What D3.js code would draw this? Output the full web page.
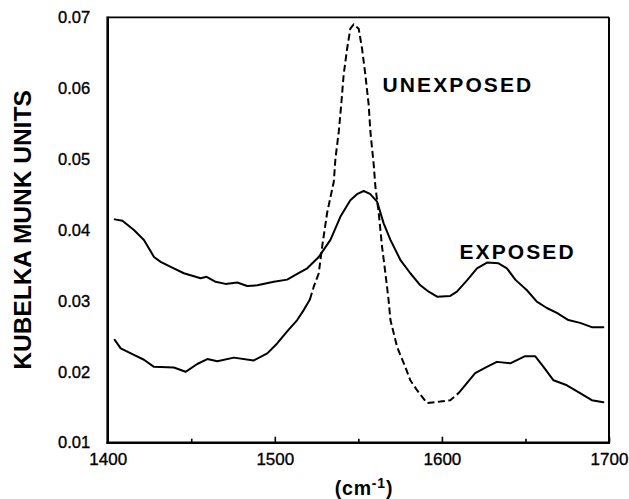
<!DOCTYPE html>
<html>
<head>
<meta charset="utf-8">
<script src="https://cdn.jsdelivr.net/npm/d3@7"></script>
<style>
  html, body { margin: 0; padding: 0; background: #fff; }
  svg { display: block; }
</style>
</head>
<body>
<svg id="chart" width="629" height="499"></svg>
<script>
// ---- data ----
const xTicks = [1400, 1500, 1600, 1700];
const xMinorTicks = [1450, 1550, 1650];
const yTicks = [0.01, 0.02, 0.03, 0.04, 0.05, 0.06, 0.07];

const exposedWn = [1404.2,1408.8,1415.7,1421.7,1427.7,1431.7,1437.7,1445.6,1455.6,1459.2,1464.6,1470.5,1477.5,1483.5,1489.5,1499.4,1507.4,1513.4,1519.4,1526.3,1533.3,1539.3,1545.2,1549.5,1553.2,1557.0,1561.2,1565.2,1569.2,1575.1,1581.1,1587.1,1592.1,1597.1,1605.0,1609.0,1615.0,1621.0,1627.0,1633.9,1638.9,1643.9,1650.9,1656.8,1662.8,1668.8,1675.7,1682.7,1689.7,1696.6];
const exposedVal = [0.0415,0.0413,0.0400,0.0386,0.0362,0.0355,0.0348,0.0339,0.0332,0.0334,0.0327,0.0324,0.0326,0.0321,0.0322,0.0327,0.0330,0.0338,0.0346,0.0362,0.0386,0.0419,0.0442,0.0451,0.0455,0.0451,0.0440,0.0409,0.0386,0.0358,0.0339,0.0322,0.0313,0.0306,0.0307,0.0313,0.0329,0.0346,0.0354,0.0353,0.0346,0.0330,0.0315,0.0299,0.0290,0.0283,0.0273,0.0269,0.0263,0.0263];

const unexposedWn = [1404.2,1407.8,1415.7,1421.7,1427.7,1439.6,1446.6,1453.6,1459.6,1465.6,1475.5,1487.4,1495.5,1501.4,1507.4,1513.4,1517.3,1521.0,1523.3,1526.3,1528.3,1531.3,1535.3,1536.3,1538.3,1539.9,1541.2,1543.3,1545.2,1547.2,1550.2,1552.2,1554.2,1556.2,1557.2,1559.2,1560.2,1562.2,1564.2,1566.2,1568.1,1569.2,1573.2,1575.1,1578.1,1581.1,1585.1,1591.1,1599.0,1605.0,1610.0,1619.9,1626.9,1632.9,1640.9,1649.8,1655.8,1660.8,1666.8,1674.8,1682.7,1689.7,1696.6];
const unexposedVal = [0.0245,0.0233,0.0224,0.0217,0.0207,0.0206,0.0200,0.0211,0.0218,0.0215,0.0220,0.0216,0.0226,0.0240,0.0257,0.0273,0.0287,0.0302,0.0320,0.0339,0.0376,0.0424,0.0468,0.0501,0.0539,0.0581,0.0619,0.0656,0.0684,0.0690,0.0684,0.0656,0.0619,0.0576,0.0539,0.0492,0.0461,0.0424,0.0376,0.0339,0.0301,0.0273,0.0235,0.0224,0.0207,0.0188,0.0174,0.0156,0.0158,0.0160,0.0170,0.0198,0.0207,0.0214,0.0212,0.0222,0.0222,0.0207,0.0188,0.0181,0.0170,0.0160,0.0157];
// wavenumber range where the UNEXPOSED trace is drawn dashed
const unexposedDashedRange = [1521.0, 1610.0];

const labels = [
  { text: "UNEXPOSED", wn: 1564.5, v: 0.0595 },
  { text: "EXPOSED",   wn: 1610.5, v: 0.0359 }
];

// ---- layout ----
const svg = d3.select("#chart");
const x = d3.scaleLinear().domain([1400, 1700]).range([107.7, 609]);
const y = d3.scaleLinear().domain([0.01, 0.07]).range([442.7, 17.3]);
const FONT = "'Liberation Sans', Arial, Helvetica, sans-serif";

svg.append("rect").attr("width", 629).attr("height", 499).attr("fill", "#fff");

// frame
const [x0, x1] = x.range();
const [yb, yt] = y.range();
svg.append("line").attr("x1", x0).attr("x2", x1).attr("y1", yt).attr("y2", yt)
  .attr("stroke", "#000").attr("stroke-width", 1.8);
svg.append("line").attr("x1", x1).attr("x2", x1).attr("y1", yt).attr("y2", yb)
  .attr("stroke", "#000").attr("stroke-width", 2);
svg.append("line").attr("x1", x0).attr("x2", x0).attr("y1", yt - 0.9).attr("y2", yb + 1.2)
  .attr("stroke", "#000").attr("stroke-width", 2.6);
svg.append("line").attr("x1", x0 - 1.2).attr("x2", x1 + 1).attr("y1", yb).attr("y2", yb)
  .attr("stroke", "#000").attr("stroke-width", 2.4);

// x axis (inward ticks)
const gx = svg.append("g").attr("transform", `translate(0,${yb})`)
  .call(d3.axisBottom(x).tickValues(xTicks).tickFormat(d3.format("d"))
        .tickSizeInner(-6).tickSizeOuter(0).tickPadding(10.5));
const gxm = svg.append("g").attr("transform", `translate(0,${yb})`)
  .call(d3.axisBottom(x).tickValues(xMinorTicks).tickFormat("")
        .tickSizeInner(-4).tickSizeOuter(0));
[gx, gxm].forEach(g => {
  g.select(".domain").remove();
  g.selectAll("line").attr("stroke", "#000").attr("stroke-width", 1.6);
});
gx.selectAll("text").attr("font-family", FONT).attr("font-size", 17).attr("fill", "#000")
  .attr("stroke", "#000").attr("stroke-width", 0.35);

// y axis
const gy = svg.append("g").attr("transform", `translate(${x0},0)`)
  .call(d3.axisLeft(y).tickValues(yTicks).tickFormat(d3.format(".2f"))
        .tickSize(0).tickPadding(17.5));
gy.select(".domain").remove();
gy.selectAll("text").attr("font-family", FONT).attr("font-size", 16.5).attr("fill", "#000")
  .attr("stroke", "#000").attr("stroke-width", 0.35);

// axis titles
svg.append("text")
  .attr("transform", "translate(22,230) rotate(-90)")
  .attr("text-anchor", "middle").attr("dominant-baseline", "central")
  .attr("font-family", FONT).attr("font-weight", "bold").attr("font-size", 24.5)
  .text("KUBELKA MUNK UNITS");

const xt = svg.append("text")
  .attr("x", 364).attr("y", 495)
  .attr("text-anchor", "middle")
  .attr("font-family", FONT).attr("font-weight", "bold").attr("font-size", 19.5)
  .attr("letter-spacing", 0.8);
xt.append("tspan").text("(cm");
xt.append("tspan").attr("dy", -7).attr("font-size", 14).text("-1");
xt.append("tspan").attr("dy", 7).text(")");

// curves
const line = d3.line().x(d => x(d[0])).y(d => y(d[1]));
const exposed = exposedWn.map((w, i) => [w, exposedVal[i]]);
const unexposed = unexposedWn.map((w, i) => [w, unexposedVal[i]]);
const [dA, dB] = unexposedDashedRange;

const curveStyle = sel => sel.attr("fill", "none").attr("stroke", "#000")
  .attr("stroke-width", 2).attr("stroke-linejoin", "round").attr("stroke-linecap", "round");

svg.append("path").datum(exposed).attr("d", line).call(curveStyle);
svg.append("path").datum(unexposed.filter(d => d[0] <= dA)).attr("d", line).call(curveStyle);
svg.append("path").datum(unexposed.filter(d => d[0] >= dA && d[0] <= dB)).attr("d", line)
  .call(curveStyle).attr("stroke-linecap", "butt").attr("stroke-dasharray", "7,3.5");
svg.append("path").datum(unexposed.filter(d => d[0] >= dB)).attr("d", line).call(curveStyle);

// in-plot labels
svg.selectAll(".lbl").data(labels).enter().append("text")
  .attr("class", "lbl")
  .attr("x", d => x(d.wn)).attr("y", d => y(d.v))
  .attr("font-family", FONT).attr("font-weight", "bold").attr("font-size", 21)
  .attr("letter-spacing", 2.1)
  .text(d => d.text);
</script>
</body>
</html>
